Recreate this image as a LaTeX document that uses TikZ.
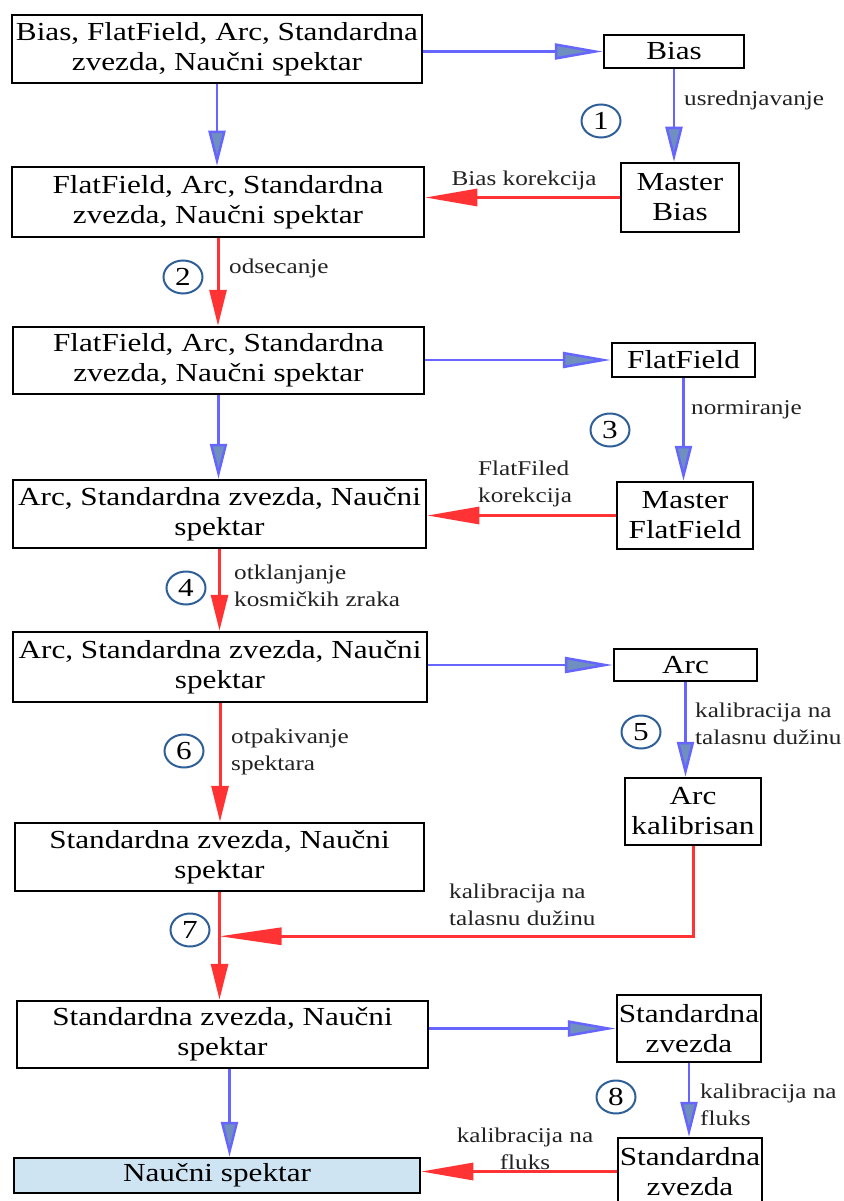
\documentclass[tikz,border=0pt]{standalone}
\usepackage{fontspec}
\setmainfont[FakeStretch=1.2]{Liberation Serif}
\usetikzlibrary{arrows.meta,calc,shapes.geometric}
\definecolor{lblue}{HTML}{6666FF}
\definecolor{afill}{HTML}{6F8FBF}
\definecolor{lred}{HTML}{FF3333}
\definecolor{cblue}{HTML}{2F5F98}
\definecolor{boxfill}{HTML}{CFE4F3}
\definecolor{lbl}{HTML}{222222}
\begin{document}
\begin{tikzpicture}[x=1pt,y=-1pt,
  box/.style={draw=black, line width=2.5pt, inner sep=0pt, align=center, font=\fontsize{26}{30}\selectfont},
  lab/.style={text=lbl, inner sep=0pt, font=\fontsize{21}{27}\selectfont},
  num/.style={ellipse, draw=cblue, line width=2pt, minimum width=39pt, minimum height=33pt, inner sep=0pt, font=\fontsize{26}{26}\selectfont},
  hb/.style={draw=lblue, line width=2.5pt, -{Triangle[length=48pt,width=16pt,fill=afill]}},
  vb/.style={draw=lblue, line width=2.5pt, -{Triangle[length=35pt,width=17pt,fill=afill]}},
  hr/.style={draw=lred, line width=3pt, -{Triangle[length=#1,width=17pt,fill=lred]}},
  hr/.default=52pt,
  vr/.style={draw=lred, line width=3pt, -{Triangle[length=36pt,width=17pt,fill=lred]}}
]
\useasboundingbox (0,0) rectangle (843,1201);
% left column
\node[box, minimum width=410pt, minimum height=68pt] (B1) at (217,49) {Bias, FlatField, Arc, Standardna\\zvezda, Naučni spektar};
\node[box, minimum width=412pt, minimum height=70pt] (B2) at (218,202) {FlatField, Arc, Standardna\\zvezda, Naučni spektar};
\node[box, minimum width=411pt, minimum height=67pt] (B3) at (218.5,360.5) {FlatField, Arc, Standardna\\zvezda, Naučni spektar};
\node[box, minimum width=413pt, minimum height=68pt] (B4) at (219.5,514) {Arc, Standardna zvezda, Naučni\\spektar};
\node[box, minimum width=414pt, minimum height=70pt] (B5) at (220,667) {Arc, Standardna zvezda, Naučni\\spektar};
\node[box, minimum width=409pt, minimum height=68pt] (B6) at (219.5,857) {Standardna zvezda, Naučni\\spektar};
\node[box, minimum width=411pt, minimum height=67pt] (B7) at (222.5,1034.5) {Standardna zvezda, Naučni\\spektar};
\node[box, fill=boxfill, minimum width=406pt, minimum height=35pt] (B8) at (217,1175.5) {Naučni spektar};
% right column
\node[box, minimum width=140pt, minimum height=33pt] (Bias) at (674,51.5) {Bias};
\node[box, minimum width=118pt, minimum height=69pt] (MB) at (680,197.5) {Master\\Bias};
\node[box, minimum width=143pt, minimum height=34pt] (FF) at (683.5,360) {FlatField};
\node[box, minimum width=136pt, minimum height=67pt] (MFF) at (685,515.5) {Master\\FlatField};
\node[box, minimum width=143pt, minimum height=32pt] (Arc) at (685.5,665) {Arc};
\node[box, minimum width=136pt, minimum height=67pt] (AK) at (693,811.5) {Arc\\kalibrisan};
\node[box, minimum width=144pt, minimum height=67pt] (SZ1) at (689,1028.5) {Standardna\\zvezda};
\node[box, minimum width=144pt, minimum height=67pt] (SZ2) at (690,1171.5) {Standardna\\zvezda};
% connectors
\draw[hb] (B1.east |- Bias.west) -- (Bias.west);
\draw[vb] (B1.south) -- (B1.south |- B2.north);
\draw[vb] (Bias.south) -- (Bias.south |- MB.north);
\draw[hr] (MB.west) -- (MB.west -| B2.east);
\draw[vr] (B2.south) -- (B2.south |- B3.north);
\draw[hb] (B3.east |- FF.west) -- (FF.west);
\draw[vb] (B3.south) -- (B3.south |- B4.north);
\draw[vb] (FF.south) -- (FF.south |- MFF.north);
\draw[hr] (MFF.west) -- (MFF.west -| B4.east);
\draw[vr] (B4.south) -- (B4.south |- B5.north);
\draw[hb] (B5.east |- Arc.west) -- (Arc.west);
\draw[vb] (Arc.south) -- (Arc.south |- AK.north);
\draw[vr] (B5.south) -- (B5.south |- B6.north);
\draw[vr] (B6.south) -- (B6.south |- B7.north);
\path (B6.south) ++(0,44) coordinate (J);
\draw[hr=62pt] (AK.south) |- (J);
\draw[hb] (B7.east |- SZ1.west) -- (SZ1.west);
\draw[vb] ([xshift=7pt]B7.south) -- ([xshift=7pt]B7.south |- B8.north);
\draw[vb] (SZ1.south) -- (SZ1.south |- SZ2.north);
\draw[hr] (SZ2.west) -- (SZ2.west -| B8.east);
% labels
\node[lab, anchor=west] (L1) at (684,100) {usrednjavanje};
\node[lab] (L2) at (524,180) {Bias korekcija};
\node[lab, anchor=west] (L3) at (229,268) {odsecanje};
\node[lab, anchor=west] (L4) at (691,410) {normiranje};
\node[lab, anchor=west, align=left] (L5) at (478,483.5) {FlatFiled\\korekcija};
\node[lab, anchor=west, align=left] (L6) at (234,586) {otklanjanje\\kosmičkih zraka};
\node[lab, anchor=west, align=left] (L7) at (695,723.5) {kalibracija na\\talasnu dužinu};
\node[lab, anchor=west, align=left] (L8) at (231,752) {otpakivanje\\spektara};
\node[lab, anchor=west, align=left] (L9) at (449,904.5) {kalibracija na\\talasnu dužinu};
\node[lab, anchor=west, align=left] (L10) at (700,1104.5) {kalibracija na\\fluks};
\node[lab, align=center] (L11) at (525,1148.5) {kalibracija na\\fluks};
% step numbers
\node[num] (N1) at (601,121) {1};
\node[num] (N2) at (183,277) {2};
\node[num] (N3) at (610,430) {3};
\node[num] (N4) at (186,588) {4};
\node[num] (N5) at (641,732) {5};
\node[num] (N6) at (184,751) {6};
\node[num] (N7) at (190,930) {7};
\node[num] (N8) at (616,1097) {8};
\end{tikzpicture}
\end{document}
